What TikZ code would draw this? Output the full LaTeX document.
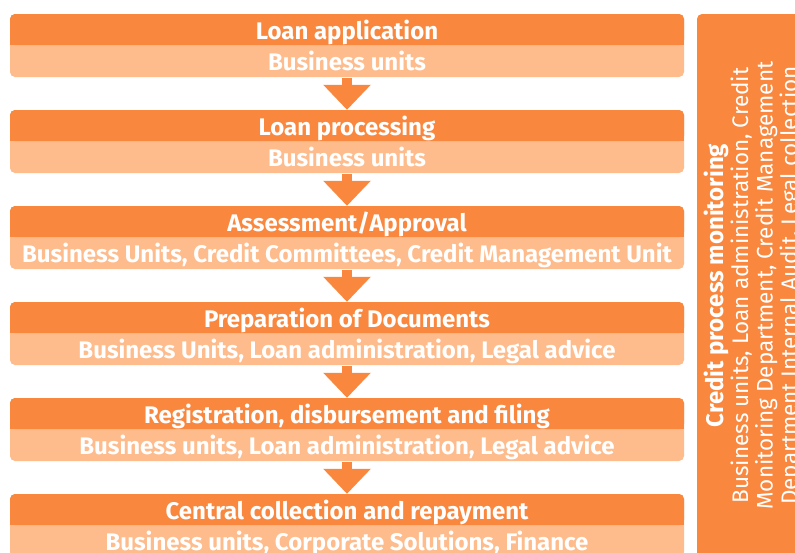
\documentclass[tikz,border=0pt]{standalone}
\usepackage{fontspec}
\setmainfont{Fira Sans}
\usetikzlibrary{arrows.meta,positioning}
\definecolor{boxorange}{RGB}{249,135,62}
\definecolor{paleorange}{RGB}{254,187,139}
\newcommand{\myrad}{5pt}
\newcommand{\boxfont}{\fontsize{24}{24.5}\selectfont}
\newcommand{\sidefont}{\fontsize{22.5}{24.5}\selectfont}
\tikzset{
    headsty/.style={minimum width=674pt,minimum height=31pt,inner sep=0pt,text height=20pt,text depth=1pt,text=white,font=\boxfont\bfseries},
    unitsty/.style={minimum width=674pt,minimum height=32pt,inner sep=0pt,text height=19pt,text depth=1pt,text=white,font=\boxfont\bfseries},
    arrsty/.style={->,draw=boxorange,line width=10pt},
    sidesty/.style={rotate=90,align=center,text=white,font=\sidefont},
}
% one step of the process: name, top y, title, units
\newcommand{\procstep}[4]{%
  \fill[paleorange,rounded corners=\myrad] (10,#2) rectangle (684,#2+63);
  \fill[boxorange,rounded corners=\myrad] (10,#2) rectangle (684,#2+31);
  \fill[boxorange] (10,#2+20) rectangle (684,#2+31);
  \node[headsty] (#1) at (347,#2+15.5) {#3};
  \node[unitsty,below=0pt of #1] (#1u) {#4};
}

\begin{document}
\begin{tikzpicture}[x=1pt,y=-1pt,>={Triangle[width=46pt,length=25pt]}]
  \clip (0,0) rectangle (795,552);

  \procstep{s1}{14}{Loan application}{Business units}
  \procstep{s2}{110}{Loan processing}{Business units}
  \procstep{s3}{206}{Assessment/Approval}{Business Units, Credit Committees, Credit Management Unit}
  \procstep{s4}{302}{Preparation of Documents}{Business Units, Loan administration, Legal advice}
  \procstep{s5}{398}{Registration, disbursement and filing}{Business units, Loan administration, Legal advice}
  \procstep{s6}{494}{Central collection and repayment}{Business units, Corporate Solutions, Finance}

  \draw[arrsty] (s1u) -- (s2);
  \draw[arrsty] (s2u) -- (s3);
  \draw[arrsty] (s3u) -- (s4);
  \draw[arrsty] (s4u) -- (s5);
  \draw[arrsty] (s5u) -- (s6);

  % monitoring panel on the right
  \fill[boxorange,rounded corners=\myrad] (697,14) rectangle (812,560);
  \node[sidesty] (mon) at (753,285.5) {{\boxfont\bfseries Credit process monitoring}\\
    Business units, Loan administration, Credit\\
    Monitoring Department, Credit Management\\
    Department Internal Audit, Legal collection};
\end{tikzpicture}
\end{document}
